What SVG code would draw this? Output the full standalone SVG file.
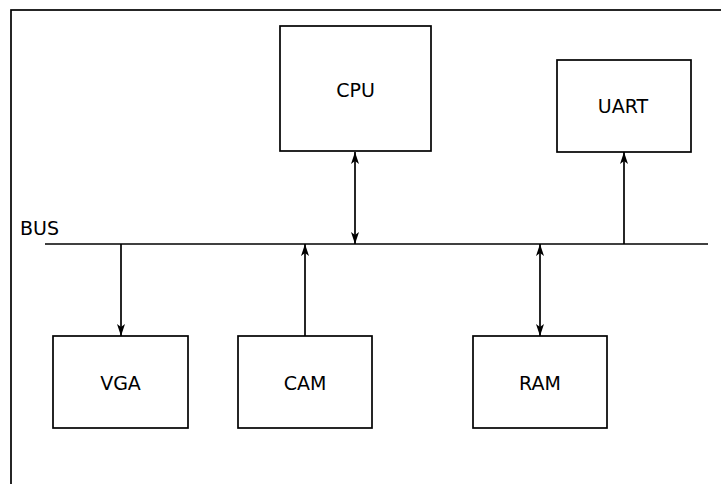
<svg xmlns="http://www.w3.org/2000/svg" width="721" height="484" viewBox="0 0 721 484">
<style>
.box{fill:#fff;stroke:#000;stroke-width:1.7}
.lbl{font-family:"DejaVu Sans",sans-serif;font-size:19px;fill:#000;text-anchor:middle}
.ln{stroke:#000;stroke-width:1.7;fill:none}
</style>
<defs>
<marker id="ah" viewBox="-13 -5 14 10" markerWidth="14" markerHeight="10" refX="0" refY="0" orient="auto-start-reverse" markerUnits="userSpaceOnUse">
<path d="M0,0 L-12,-4 L-9,0 L-12,4 Z" fill="#000"/>
</marker>
</defs>
<rect width="721" height="484" fill="#fff"/>
<rect id="frame" x="11" y="10" width="730" height="490" fill="none" stroke="#000" stroke-width="1.7"/>
<g id="bus">
<line class="ln" x1="45" y1="244" x2="708" y2="244"/>
<text x="20" y="235" font-family="DejaVu Sans, sans-serif" font-size="19">BUS</text>
</g>
<g id="cpu"><rect class="box" x="280" y="26" width="151" height="125"/><text class="lbl" x="355.5" y="97">CPU</text></g>
<g id="uart"><rect class="box" x="557" y="60" width="134" height="92"/><text class="lbl" x="623" y="113">UART</text></g>
<g id="vga"><rect class="box" x="53" y="336" width="135" height="92"/><text class="lbl" x="120.5" y="390">VGA</text></g>
<g id="cam"><rect class="box" x="238" y="336" width="134" height="92"/><text class="lbl" x="305" y="390">CAM</text></g>
<g id="ram"><rect class="box" x="473" y="336" width="134" height="92"/><text class="lbl" x="540" y="390">RAM</text></g>
<g id="connectors">
<line class="ln" x1="121" y1="244" x2="121" y2="336" marker-end="url(#ah)"/>
<line class="ln" x1="305" y1="336" x2="305" y2="244" marker-end="url(#ah)"/>
<line class="ln" x1="355" y1="152" x2="355" y2="244" marker-start="url(#ah)" marker-end="url(#ah)"/>
<line class="ln" x1="540" y1="244" x2="540" y2="336" marker-start="url(#ah)" marker-end="url(#ah)"/>
<line class="ln" x1="624" y1="244" x2="624" y2="152" marker-end="url(#ah)"/>
</g>
</svg>
